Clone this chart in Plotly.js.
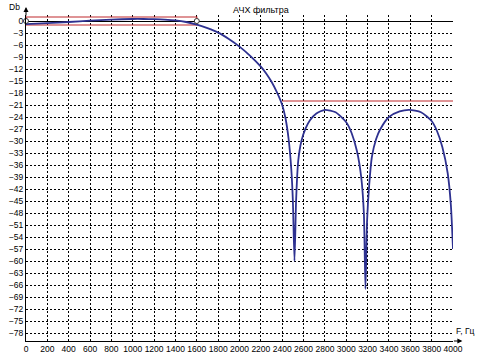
<!DOCTYPE html>
<html>
<head>
<meta charset="utf-8">
<script src="https://cdn.plot.ly/plotly-3.0.1.min.js"></script>
<style>html,body{margin:0;padding:0;background:#fff;}#chart{width:477px;height:360px;}</style>
</head>
<body>
<div id="chart"></div>
<script>
// Frequency response (F, Hz) and gain (dB)
var freq = [0, 200, 400, 600, 800, 1000, 1100, 1200, 1300, 1400, 1500, 1600,
  1700, 1800, 1900, 2000, 2100, 2200, 2250, 2300, 2350, 2400, 2430, 2460, 2485, 2500, 2515,
  2530, 2550, 2580, 2620, 2660, 2720, 2800, 2900, 3000, 3050, 3100, 3140, 3165, 3180,
  3195, 3215, 3240, 3280, 3320, 3400, 3500, 3590, 3700, 3800, 3850, 3900, 3950, 3980, 4000];
var gain = [-0.8, -0.55, -0.25, 0.1, 0.35, 0.5, 0.5, 0.45, 0.35, 0.15, -0.25, -0.9,
  -1.8, -2.9, -4.5, -6.4, -8.7, -11.4, -13.1, -15.2, -17.8, -21.0, -24.2, -29.5, -37, -45, -60,
  -45, -35, -30, -26.8, -24.8, -23.1, -22.2, -22.8, -25.3, -28, -32.5, -39, -48, -67,
  -50, -41, -34, -29.5, -27, -24, -22.6, -22.2, -22.8, -25, -27.5, -31.5, -38, -46, -57];

// Passband tolerance box and stopband requirement
var passF = [0, 1600];
var passRipple = [1, -1];
var stopF = [2400, 4000];
var stopAtt = -20;
var markF = [0, 1600];
var markG = [0, 0];

// Tick labels
var xTicks = [];
for (var t = 0; t <= 4000; t += 200) xTicks.push(t);
var yTicks = [];
for (var v = 0; v >= -78; v -= 3) yTicks.push(v);

var font = 'Liberation Sans, Arial, sans-serif';

var traces = [
  {
    x: [passF[0], passF[1], passF[1], passF[0], passF[0]],
    y: [passRipple[0], passRipple[0], passRipple[1], passRipple[1], passRipple[0]],
    mode: 'lines', line: {color: '#c0282d', width: 1.2}, hoverinfo: 'skip'
  },
  {
    x: stopF, y: [stopAtt, stopAtt],
    mode: 'lines', line: {color: '#c0282d', width: 1.2}, hoverinfo: 'skip'
  },
  {
    x: freq, y: gain, mode: 'lines',
    line: {color: '#2e3190', width: 1.8, shape: 'spline', smoothing: 0.6}
  },
  {
    x: markF, y: markG, mode: 'markers', cliponaxis: false,
    marker: {symbol: 'circle', size: 5, color: '#ffffff', line: {color: '#333', width: 1}}
  }
];

var layout = {
  width: 477, height: 360,
  margin: {l: 26, r: 24, t: 15, b: 19, pad: 0},
  paper_bgcolor: '#fff', plot_bgcolor: '#fff',
  showlegend: false,
  font: {family: font, size: 8.5, color: '#000'},
  title: {
    text: 'АЧХ фильтра', font: {family: font, size: 9, color: '#000'},
    xref: 'container', x: 0.547, xanchor: 'center',
    yref: 'container', y: 0.972, yanchor: 'middle'
  },
  xaxis: {
    range: [0, 4000], tickvals: xTicks, ticktext: xTicks.map(String),
    showgrid: true, gridcolor: '#000', gridwidth: 1, griddash: '2px,2px',
    showline: true, linecolor: '#000', linewidth: 1,
    zeroline: false, ticks: '', fixedrange: true,
    tickfont: {family: font, size: 8.5, color: '#000'}
  },
  yaxis: {
    range: [-80, 1.5], tickvals: yTicks,
    showgrid: true, gridcolor: '#000', gridwidth: 1, griddash: '2px,2px',
    showline: true, linecolor: '#000', linewidth: 1,
    zeroline: true, zerolinecolor: '#000', zerolinewidth: 1,
    ticks: '', fixedrange: true,
    tickfont: {family: font, size: 8.5, color: '#000'}
  },
  annotations: [
    {xref: 'paper', yref: 'paper', x: 0, y: 1.0245, ax: 0, ay: 10,
     axref: 'pixel', ayref: 'pixel', showarrow: true, arrowhead: 2, arrowsize: 1,
     arrowwidth: 1, arrowcolor: '#000', text: ''},
    {xref: 'paper', yref: 'paper', x: 1.022, y: 0, ax: -10, ay: 0,
     axref: 'pixel', ayref: 'pixel', showarrow: true, arrowhead: 2, arrowsize: 1,
     arrowwidth: 1, arrowcolor: '#000', text: ''},
    {xref: 'paper', yref: 'paper', x: -0.028, y: 1.0245, text: 'Db', showarrow: false,
     xanchor: 'center', yanchor: 'middle', font: {family: font, size: 8.5, color: '#000'}},
    {xref: 'paper', yref: 'paper', x: 1.03, y: 0.031, text: 'F, Гц', showarrow: false,
     xanchor: 'center', yanchor: 'middle', font: {family: font, size: 8.5, color: '#000'}}
  ]
};

Plotly.newPlot('chart', traces, layout, {displayModeBar: false, staticPlot: true});
</script>
</body>
</html>
